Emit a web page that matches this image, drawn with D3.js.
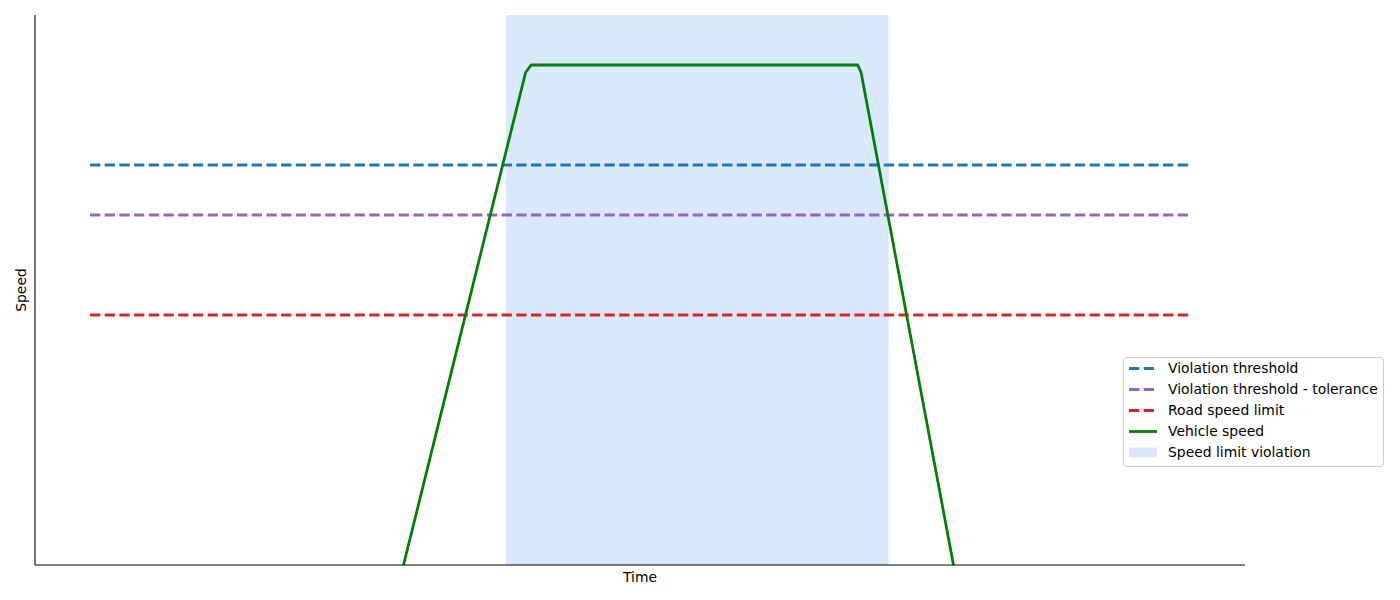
<!DOCTYPE html>
<html>
<head>
<meta charset="utf-8">
<script src="https://cdn.jsdelivr.net/npm/d3@7"></script>
<style>
  body { margin: 0; background: #fff; }
  text { font-family: "DejaVu Sans", sans-serif; }
</style>
</head>
<body>
<svg id="chart"></svg>
<script>
const width = 1400, height = 600;

// thresholds (speed units), drawn across the whole time range
const thresholdNames = ["Violation threshold", "Violation threshold - tolerance", "Road speed limit"];
const thresholdValues = [80, 70, 50];
const thresholdColors = ["#1f77b4", "#9467bd", "#d62728"];
const timeRange = [0, 100];

// vehicle speed profile
const vehicleTime = [28.5, 39.6, 40.1, 69.8, 70.1, 78.5];
const vehicleSpeed = [0, 98.5, 100, 100, 98.5, 0];

// shaded violation window
const violationSpan = [37.8, 72.6];

const margin = {left: 35, right: 155, top: 15, bottom: 35};

const svg = d3.select("#chart")
    .attr("width", width)
    .attr("height", height);

const x = d3.scaleLinear()
    .domain([-5, 105])
    .range([margin.left, width - margin.right]);

const y = d3.scaleLinear()
    .domain([0, 110])
    .range([height - margin.bottom, margin.top]);

svg.append("defs").append("clipPath").attr("id", "clip")
    .append("rect")
    .attr("x", margin.left).attr("y", margin.top)
    .attr("width", x.range()[1] - margin.left)
    .attr("height", y.range()[0] - margin.top);

const plot = svg.append("g").attr("clip-path", "url(#clip)");

plot.append("rect")
    .attr("x", x(violationSpan[0]))
    .attr("y", margin.top)
    .attr("width", x(violationSpan[1]) - x(violationSpan[0]))
    .attr("height", y.range()[0] - margin.top)
    .attr("fill", "#dae8fc");

const lw = 2.78;

plot.selectAll("line.thr")
    .data(thresholdValues)
    .enter()
    .append("line")
    .attr("class", "thr")
    .attr("x1", x(timeRange[0]))
    .attr("x2", x(timeRange[1]))
    .attr("y1", d => y(d))
    .attr("y2", d => y(d))
    .attr("stroke", (d, i) => thresholdColors[i])
    .attr("stroke-width", lw)
    .attr("stroke-dasharray", "10.3,4.4");

const line = d3.line()
    .x((d, i) => x(vehicleTime[i]))
    .y(d => y(d));

plot.append("path")
    .attr("d", line(vehicleSpeed))
    .attr("fill", "none")
    .attr("stroke", "green")
    .attr("stroke-width", lw)
    .attr("stroke-linejoin", "round");

// spines: left and bottom only, no ticks
svg.append("line")
    .attr("x1", margin.left).attr("x2", margin.left)
    .attr("y1", margin.top).attr("y2", y.range()[0])
    .attr("stroke", "#000").attr("stroke-width", 1.1);
svg.append("line")
    .attr("x1", margin.left).attr("x2", x.range()[1])
    .attr("y1", y.range()[0]).attr("y2", y.range()[0])
    .attr("stroke", "#000").attr("stroke-width", 1.1);

svg.append("text")
    .attr("x", (margin.left + x.range()[1]) / 2)
    .attr("y", 582)
    .attr("text-anchor", "middle")
    .attr("font-size", 13.9)
    .text("Time");

svg.append("text")
    .attr("transform", `translate(26,${(margin.top + y.range()[0]) / 2}) rotate(-90)`)
    .attr("text-anchor", "middle")
    .attr("font-size", 13.9)
    .text("Speed");

// legend
const legend = svg.append("g").attr("transform", "translate(1123,357)");
legend.append("rect")
    .attr("x", 0.5).attr("y", 0.5)
    .attr("width", 260).attr("height", 109)
    .attr("rx", 3)
    .attr("fill", "#fff")
    .attr("stroke", "#cccccc");

const items = thresholdNames.map((n, i) => ({name: n, type: "dash", color: thresholdColors[i]}))
    .concat([{name: "Vehicle speed", type: "line", color: "green"},
             {name: "Speed limit violation", type: "patch", color: "#dae8fc"}]);

items.forEach((it, i) => {
    const cy = 11.5 + i * 21;
    if (it.type === "patch") {
        legend.append("rect")
            .attr("x", 6).attr("y", cy - 5)
            .attr("width", 28).attr("height", 10)
            .attr("fill", it.color);
    } else {
        legend.append("line")
            .attr("x1", 6).attr("x2", 34)
            .attr("y1", cy).attr("y2", cy)
            .attr("stroke", it.color)
            .attr("stroke-width", lw)
            .attr("stroke-dasharray", it.type === "dash" ? "10.3,4.4" : null);
    }
    legend.append("text")
        .attr("x", 45).attr("y", cy)
        .attr("dy", "0.35em")
        .attr("font-size", 13.9)
        .text(it.name);
});
</script>
</body>
</html>
